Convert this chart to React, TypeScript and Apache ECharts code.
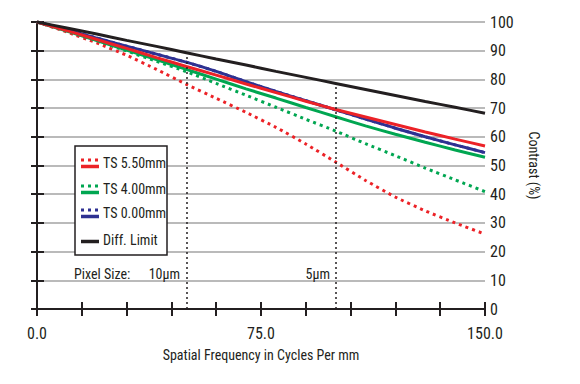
import React, { useEffect, useRef } from "react";
import * as echarts from "echarts";

const freq = [0, 10, 20, 30, 40, 50, 60, 70, 80, 90, 100, 110, 120, 130, 140, 150];
const diffLimit = [100, 97.9, 95.8, 93.6, 91.5, 89.3, 87.1, 85.0, 82.8, 80.7, 78.6, 76.5, 74.4, 72.3, 70.3, 68.2];
const ts550Solid = [100, 97.0, 93.9, 90.8, 87.6, 84.5, 81.5, 78.4, 75.4, 72.4, 69.5, 66.9, 64.3, 61.7, 59.2, 56.8];
const ts550Dotted = [100, 96.5, 92.7, 88.4, 83.5, 78.3, 73.4, 68.5, 63.3, 57.5, 51.2, 44.8, 39.0, 34.2, 30.0, 26.1];
const ts400Solid = [100, 96.8, 93.5, 90.2, 86.9, 83.5, 80.1, 76.7, 73.5, 70.2, 67.0, 63.8, 60.9, 58.1, 55.4, 52.9];
const ts400Dotted = [100, 96.8, 93.4, 89.9, 86.3, 82.7, 78.6, 74.5, 70.3, 66.1, 62.0, 57.6, 53.4, 49.1, 45.0, 40.9];
const ts000Solid = [100, 97.3, 94.4, 91.6, 88.8, 86.0, 82.8, 79.2, 75.8, 72.6, 69.4, 66.2, 63.0, 60.0, 57.2, 54.5];
const ts000Dotted = [100, 97.3, 94.4, 91.6, 88.8, 86.0, 82.8, 79.2, 75.8, 72.6, 69.4, 66.2, 63.0, 60.0, 57.2, 54.5];
const pixelLineFreq = [50, 100];
const pixelLineTop = [88, 78];
const pixelLabels = ["10μm", "5μm"];
const legendNames = ["TS 5.50mm", "TS 4.00mm", "TS 0.00mm", "Diff. Limit"];
const xLabelValues = [0, 75, 150];

const RED = "#ec2227";
const GREEN = "#00a651";
const BLUE = "#2e3192";
const BLACK = "#231f20";
const FONT = "'Roboto Condensed', 'DejaVu Sans Condensed', sans-serif";

const pair = (ys: number[]) => freq.map((f, i) => [f, ys[i]]);

export default function App() {
  const ref = useRef<HTMLDivElement>(null);
  useEffect(() => {
    if (!ref.current) return;
    document.body.style.margin = "0";
    const chart = echarts.init(ref.current, undefined, { renderer: "svg" });
    const solid = (name: string, color: string, ys: number[], z = 3) => ({
      type: "line", name, data: pair(ys), symbol: "none", z, smooth: 0.2,
      lineStyle: { color, width: 3 }, silent: true,
    });
    const dotted = (name: string, color: string, ys: number[], z = 2) => ({
      type: "line", name, data: pair(ys), symbol: "none", z, smooth: 0.2,
      lineStyle: { color, width: 3, type: [3, 4], cap: "butt" }, silent: true,
    });
    const legendColors = [RED, GREEN, BLUE, BLACK];
    const legendGraphics: any[] = [
      { type: "rect", shape: { x: 75, y: 146, width: 92, height: 109 }, style: { fill: "#fff", stroke: "#231f20", lineWidth: 1.5 }, z: 10 },
    ];
    const itemY = [163, 189, 213, 240];
    legendNames.forEach((n, i) => {
      const y = itemY[i];
      if (i < 3) {
        legendGraphics.push({ type: "line", shape: { x1: 81, y1: y - 3, x2: 99, y2: y - 3 }, style: { stroke: legendColors[i], lineWidth: 3, lineDash: [3, 4] }, z: 11 });
        legendGraphics.push({ type: "line", shape: { x1: 81, y1: y + 3.5, x2: 99, y2: y + 3.5 }, style: { stroke: legendColors[i], lineWidth: 3.5 }, z: 11 });
      } else {
        legendGraphics.push({ type: "line", shape: { x1: 81, y1: y + 1.5, x2: 99, y2: y + 1.5 }, style: { stroke: legendColors[i], lineWidth: 3.5 }, z: 11 });
      }
      legendGraphics.push({ type: "text", x: 103, y, style: { text: n, font: `14px ${FONT}`, fill: BLACK, verticalAlign: "middle", align: "left" }, z: 11 });
    });
    legendGraphics.push({ type: "text", x: 74, y: 274, style: { text: "Pixel Size:", font: `14px ${FONT}`, fill: BLACK, verticalAlign: "middle", align: "left" }, z: 11 });
    legendGraphics.push({ type: "text", x: 180, y: 274, style: { text: pixelLabels[0], font: `14px ${FONT}`, fill: BLACK, verticalAlign: "middle", align: "right" }, z: 11 });
    legendGraphics.push({ type: "text", x: 330, y: 274, style: { text: pixelLabels[1], font: `14px ${FONT}`, fill: BLACK, verticalAlign: "middle", align: "right" }, z: 11 });

    const axisCommon = {
      type: "value", min: 0, max: 150, interval: 15,
      axisLine: { show: true, lineStyle: { color: BLACK, width: 2 } },
      axisTick: { show: true, inside: true, length: 7, lineStyle: { color: BLACK, width: 2 } },
      splitLine: { show: false },
    };
    const option: any = {
      animation: false,
      backgroundColor: "#fff",
      grid: { left: 37, right: 95, top: 22, bottom: 75, containLabel: false },
      xAxis: [
        {
          ...axisCommon, position: "bottom",
          name: "Spatial Frequency in Cycles Per mm", nameLocation: "middle", nameGap: 39,
          nameTextStyle: { fontFamily: FONT, fontSize: 14, color: BLACK },
          axisLabel: {
            show: true, margin: 16, fontFamily: FONT, fontSize: 16, color: BLACK,
            formatter: (v: number) => (xLabelValues.includes(v) ? v.toFixed(1) : ""),
            showMinLabel: true, showMaxLabel: true,
          },
        },
        { ...axisCommon, position: "top", axisLabel: { show: false } },
      ],
      yAxis: [
        {
          type: "value", min: 0, max: 100, interval: 10, position: "left",
          axisLine: { show: true, lineStyle: { color: BLACK, width: 2 } },
          axisTick: { show: true, inside: true, length: 7, lineStyle: { color: BLACK, width: 2 } },
          axisLabel: { show: false },
          splitLine: { show: true, lineStyle: { color: "#a3a3a3", width: 1.5 } },
        },
        {
          type: "value", min: 0, max: 100, interval: 10, position: "right",
          name: "Contrast (%)", nameLocation: "middle", nameGap: 42, nameRotate: -90,
          nameTextStyle: { fontFamily: FONT, fontSize: 14, color: BLACK },
          axisLine: { show: true, lineStyle: { color: BLACK, width: 2 } },
          axisTick: { show: true, inside: true, length: 6, lineStyle: { color: BLACK, width: 2 } },
          axisLabel: { show: true, margin: 5, fontFamily: FONT, fontSize: 16, color: BLACK },
          splitLine: { show: false },
        },
      ],
      series: [
        {
          ...dotted("TS 0.00mm dotted", BLUE, ts000Dotted, 1),
          markLine: {
            silent: true, symbol: "none", label: { show: false },
            lineStyle: { color: BLACK, width: 1.5, type: [2, 3] },
            data: pixelLineFreq.map((f, i) => [{ coord: [f, 0] }, { coord: [f, pixelLineTop[i]] }]),
          },
        },
        dotted("TS 4.00mm dotted", GREEN, ts400Dotted),
        dotted("TS 5.50mm dotted", RED, ts550Dotted),
        solid("TS 4.00mm", GREEN, ts400Solid),
        solid("TS 0.00mm", BLUE, ts000Solid),
        solid("TS 5.50mm", RED, ts550Solid),
        solid("Diff. Limit", BLACK, diffLimit),
      ],
      graphic: legendGraphics,
    };
    chart.setOption(option);
    return () => chart.dispose();
  }, []);
  return <div ref={ref} style={{ width: 580, height: 384 }} />;
}
